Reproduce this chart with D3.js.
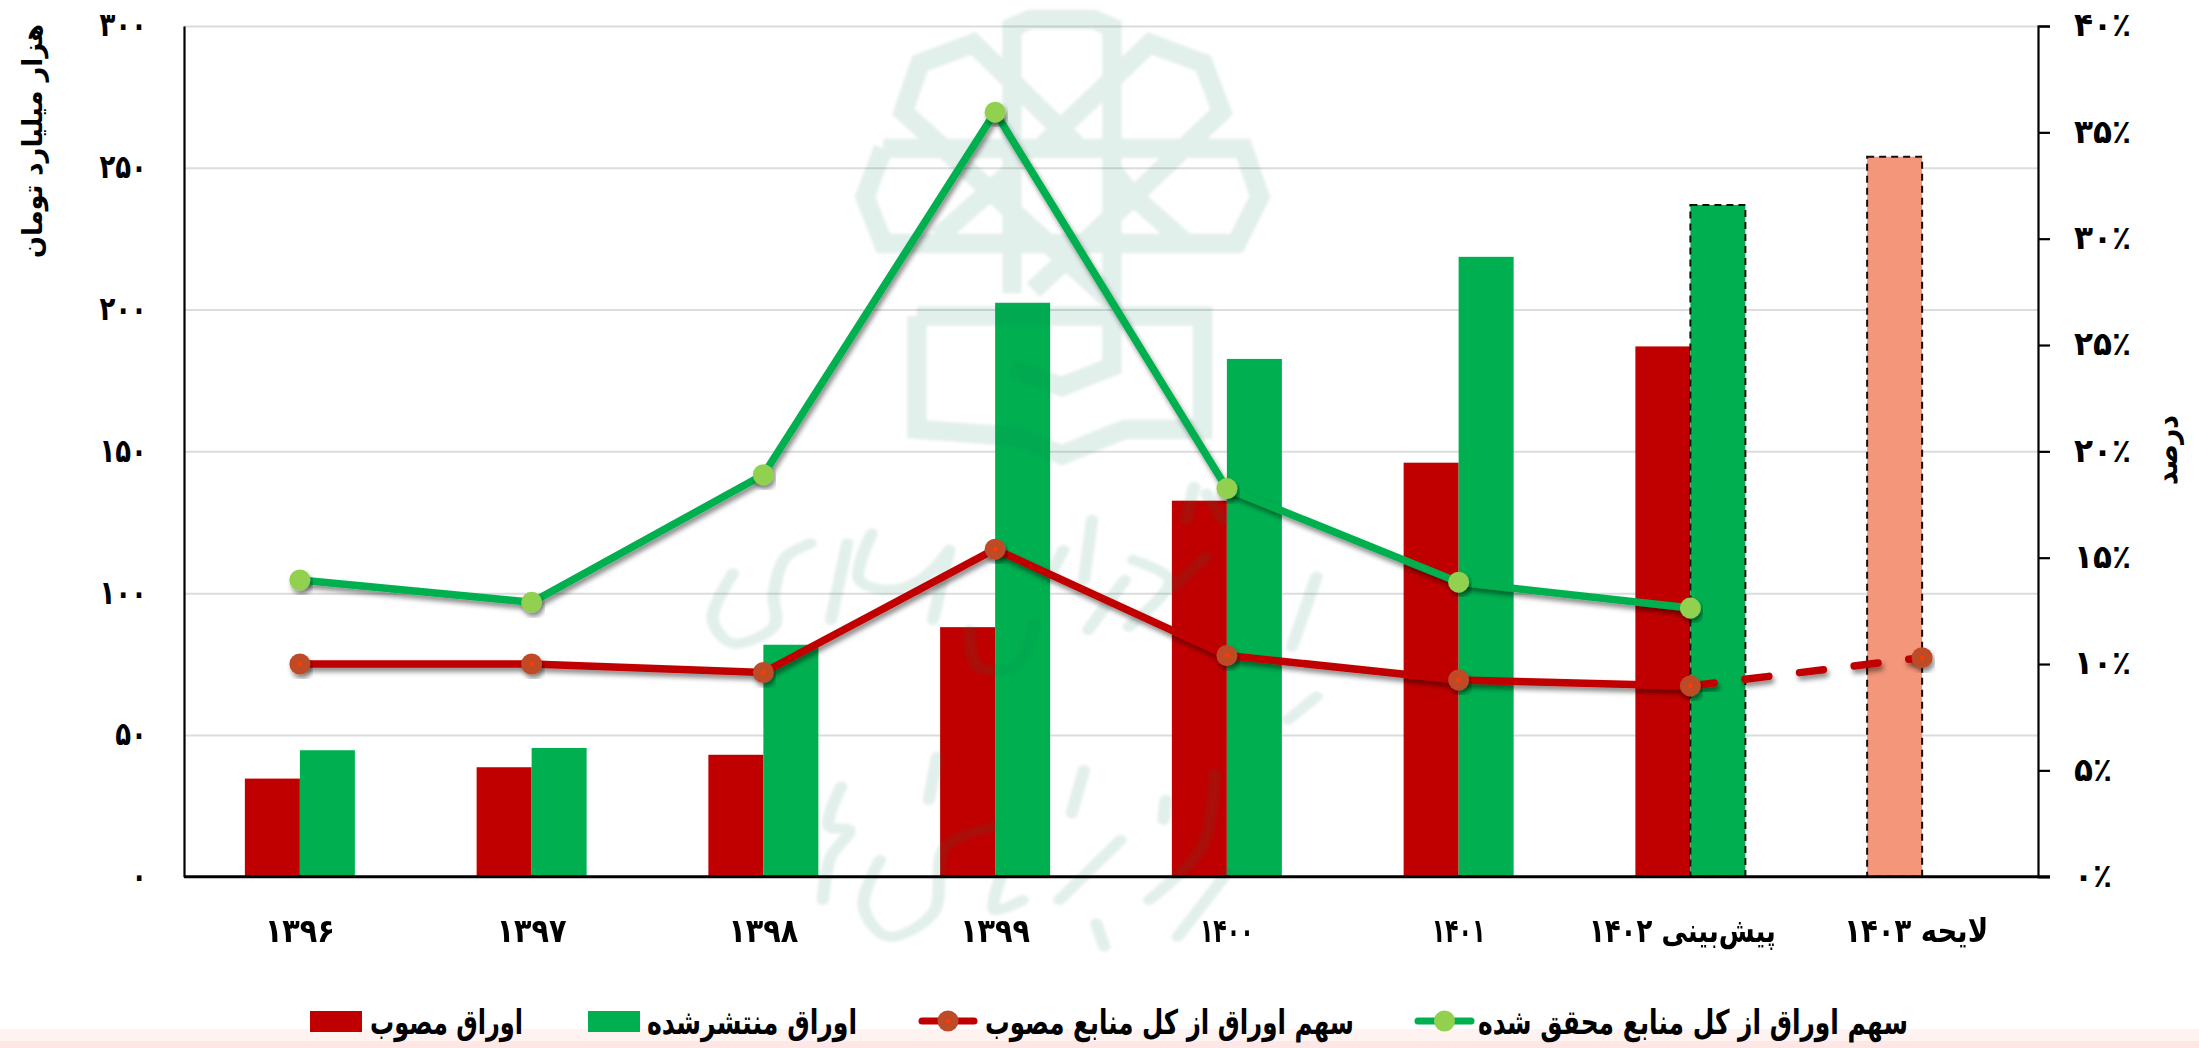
<!DOCTYPE html>
<html><head><meta charset="utf-8">
<script src="https://cdn.jsdelivr.net/npm/d3@7"></script>
<style>
html,body{margin:0;padding:0;background:#fff;overflow:hidden}
svg{display:block}
text{font-family:"DejaVu Sans",sans-serif;font-weight:700;fill:#000}
</style></head><body>
<script>
const categories = ["۱۳۹۶","۱۳۹۷","۱۳۹۸","۱۳۹۹","۱۴۰۰","۱۴۰۱","پیش‌بینی ۱۴۰۲","لایحه ۱۴۰۳"];
const approvedBonds = [34.6,38.6,43,88,132.6,146,187,253.9];
const issuedBonds = [44.6,45.4,81.8,202.4,182.6,218.6,236.9,null];
const shareRealized = [13.95,12.9,18.9,35.95,18.25,13.85,12.63,null];
const shareApproved = [10,10,9.6,15.4,10.4,9.25,8.97,10.3];
const leftTicks = [0,50,100,150,200,250,300];
const leftTickLabels = ["۰","۵۰","۱۰۰","۱۵۰","۲۰۰","۲۵۰","۳۰۰"];
const rightTicks = [0,5,10,15,20,25,30,35,40];
const rightTickLabels = ["۰٪","۵٪","۱۰٪","۱۵٪","۲۰٪","۲۵٪","۳۰٪","۳۵٪","۴۰٪"];
const legendLabels = ["اوراق مصوب","اوراق منتشرشده","سهم اوراق از کل منابع مصوب","سهم اوراق از کل منابع محقق شده"];
const yTitleLeft = "هزار میلیارد تومان";
const yTitleRight = "درصد";

const RED="#C00000", GREEN="#00B050", SALMON="#F4967A", RM="#BE4B28", GM="#92D050";
const W=2199,H=1048,L=184,R=2038,T=26,B=876.7;
const svg=d3.select("body").append("svg").attr("width",W).attr("height",H);
const defs=svg.append("defs");
const sh=defs.append("filter").attr("id","shadow").attr("x","-10%").attr("y","-10%").attr("width","120%").attr("height","130%").attr("filterUnits","objectBoundingBox");
sh.append("feDropShadow").attr("dx",2).attr("dy",4).attr("stdDeviation",2.5).attr("flood-color","#000").attr("flood-opacity",.45);
defs.append("filter").attr("id","soft").append("feGaussianBlur").attr("stdDeviation",1.6);

svg.append("rect").attr("x",0).attr("y",1029).attr("width",W).attr("height",12).attr("fill","#FFF3F1");
svg.append("rect").attr("x",0).attr("y",1041).attr("width",W).attr("height",7).attr("fill","#FFE7E5");

const x=d3.scaleBand().domain(categories).range([L,R]);
const y=d3.scaleLinear().domain([0,300]).range([B,T]);
const y2=d3.scaleLinear().domain([0,40]).range([B,T]);
const cx=c=>x(c)+x.bandwidth()/2;
const barW=55;
const inner=d3.scaleBand().domain(["a","b"]).range([-barW,barW]);

// gridlines
svg.append("g").attr("transform",`translate(${L},0)`)
  .call(d3.axisLeft(y).tickValues(leftTicks.slice(1)).tickSize(-(R-L)).tickFormat(""))
  .call(g=>{g.select(".domain").remove();g.selectAll("line").attr("stroke","#DCDCDC").attr("stroke-width",2);});

// bars
const gBars=svg.append("g");
gBars.selectAll("rect.a").data(categories).join("rect").attr("class","a")
  .attr("x",c=>cx(c)+inner("a")).attr("width",barW)
  .attr("y",(c,i)=>y(approvedBonds[i])).attr("height",(c,i)=>y(0)-y(approvedBonds[i]))
  .attr("fill",(c,i)=>i===7?SALMON:RED)
  .attr("stroke",(c,i)=>i===7?"#111":"none").attr("stroke-width",2).attr("stroke-dasharray","7 5");
gBars.selectAll("rect.b").data(categories.filter((c,i)=>issuedBonds[i]!==null)).join("rect").attr("class","b")
  .attr("x",c=>cx(c)+inner("b")).attr("width",barW)
  .attr("y",(c,i)=>y(issuedBonds[i])).attr("height",(c,i)=>y(0)-y(issuedBonds[i]))
  .attr("fill",GREEN)
  .attr("stroke",(c,i)=>i===6?"#111":"none").attr("stroke-width",2).attr("stroke-dasharray","7 5");

// watermark (emblem + calligraphy)
const wm=svg.append("g").attr("filter","url(#soft)").attr("opacity",.12);
const emblem=[
 [[636,880],[636,82],[690,58],[880,58],[936,82],[936,1100],[785,1160],[636,1105]],
 [[840,445],[520,130],[360,190],[310,335],[590,590],[930,900]],
 [[720,445],[1050,130],[1210,190],[1265,335],[1000,590],[700,870]],
 [[250,445],[1330,445],[1380,590],[1310,730],[250,730],[195,590],[250,445]],
 [[415,710],[640,510]],[[936,510],[1000,590],[1160,730]],
 [[351,948],[1208,948],[1208,1288],[975,1288],[785,1365],[650,1310],[351,1288],[351,948]]
];
const lin=d3.line();
wm.append("g").attr("transform","translate(800,0) scale(.3333)")
  .selectAll("path").data(emblem).join("path").attr("d",lin)
  .attr("fill","none").attr("stroke","#097C56").attr("stroke-width",58).attr("stroke-linejoin","miter");
const callig=[
 [[130,280],[80,420],[130,490],[230,440],[230,340],[260,230],[320,190]],
 [[410,190],[370,420]],
 [[470,160],[440,300],[520,330],[600,290],[660,210]],
 [[660,210],[620,420]],
 [[1010,120],[990,300]],[[940,210],[900,300]],
 [[1090,300],[1000,450]],[[1290,230],[1210,320]],[[1260,20],[1240,120]],
 [[710,450],[730,560],[820,560],[870,430]],
 [[395,920],[365,1040],[415,1050],[370,1130],[350,1260]],
 [[490,1140],[450,1280],[510,1370],[620,1300],[650,1100],[770,1040]],
 [[630,830],[610,960]],[[990,870],[960,1000]],[[1020,1330],[1040,1400]],[[1190,960],[1185,1020]],
 [[1080,1080],[930,1260]],[[790,1180],[770,1290],[840,1260]],
 [[1310,880],[1280,1100],[1150,1260]],[[1560,650],[1490,720]],[[1340,1180],[1220,1370]],
 [[1560,290],[1500,500]],[[1110,240],[1200,300],[1100,440]],[[1290,40],[1330,120]]
];
const cur=d3.line().curve(d3.curveCatmullRom);
wm.append("g").attr("transform","translate(680,480) scale(.408,.3333)")
  .selectAll("path").data(callig).join("path").attr("d",cur)
  .attr("fill","none").attr("stroke","#097C56").attr("stroke-width",30).attr("stroke-linecap","round").attr("stroke-linejoin","round");

// lines
const line=d3.line().x(d=>cx(d.c)).y(d=>y2(d.v));
const ptsG=categories.map((c,i)=>({c,v:shareRealized[i]})).filter(d=>d.v!==null);
const ptsR=categories.map((c,i)=>({c,v:shareApproved[i]}));
const LW=7.5;
svg.append("path").attr("d",line(ptsG)).attr("fill","none").attr("stroke",GREEN).attr("stroke-width",LW).attr("stroke-linecap","round").attr("stroke-linejoin","round").attr("filter","url(#shadow)");
svg.append("path").attr("d",line(ptsR.slice(0,7))).attr("fill","none").attr("stroke",RED).attr("stroke-width",LW).attr("stroke-linecap","round").attr("stroke-linejoin","round").attr("filter","url(#shadow)");
svg.append("path").attr("d",line(ptsR.slice(6))).attr("fill","none").attr("stroke",RED).attr("stroke-width",LW).attr("stroke-linecap","round").attr("stroke-dasharray","24 31").attr("filter","url(#shadow)");
function markers(pts,fill,dot){
  const g=svg.append("g");
  g.selectAll("circle.m").data(pts).join("circle").attr("class","m").attr("cx",d=>cx(d.c)).attr("cy",d=>y2(d.v)).attr("r",10.5).attr("fill",fill).attr("filter","url(#shadow)");
  if(dot) g.selectAll("circle.d").data(pts).join("circle").attr("class","d").attr("cx",d=>cx(d.c)).attr("cy",d=>y2(d.v)).attr("r",2.2).attr("fill",dot);
}
markers(ptsG,GM,null);
markers(ptsR,RM,"#FF3C00");

// squeeze a label to a narrower width while keeping its taller font size
function fit(sel,base,big,stretch){
  sel.each(function(){
    this.style.fontSize=base+"px";
    const w=this.getComputedTextLength();
    this.style.fontSize=big+"px";
    this.setAttribute("textLength",w*stretch);
    this.setAttribute("lengthAdjust","spacingAndGlyphs");
  });
}
// axes
svg.append("g").attr("transform",`translate(${L},0)`)
  .call(d3.axisLeft(y).tickValues(leftTicks).tickSize(0).tickPadding(37).tickFormat((d,i)=>leftTickLabels[i]))
  .call(g=>{g.select(".domain").attr("stroke","#000").attr("stroke-width",2.2);
    g.selectAll("text").attr("dy","0.3em").attr("direction","ltr").call(fit,26,33,1.0);});
svg.append("g").attr("transform",`translate(${R},0)`)
  .call(d3.axisRight(y2).tickValues(rightTicks).tickSize(12).tickPadding(24).tickFormat((d,i)=>rightTickLabels[i]))
  .call(g=>{g.select(".domain").attr("stroke","#000").attr("stroke-width",2.2);
    g.selectAll("line").attr("stroke","#000").attr("stroke-width",2.2);
    g.selectAll("text").attr("dy","0.3em").attr("direction","ltr").call(fit,26,33,1.2);});
svg.append("line").attr("x1",L).attr("x2",R+12).attr("y1",B).attr("y2",B).attr("stroke","#000").attr("stroke-width",3);

// category labels
const catSpans=[70,70,70,70,54,54,187,144];
const catShift=[0,0,0,0,0,0,-8,-6];
svg.append("g").selectAll("text").data(categories).join("text")
  .attr("x",(c,i)=>cx(c)+catShift[i]).attr("y",942).attr("text-anchor","middle").attr("direction","rtl")
  .style("font-size","33px").text(c=>c)
  .attr("textLength",(c,i)=>catSpans[i]).attr("lengthAdjust","spacingAndGlyphs");

// titles
svg.append("text").attr("transform","translate(42,141) rotate(-90)").attr("text-anchor","middle").attr("direction","rtl")
  .style("font-size","27px").attr("textLength",234).attr("lengthAdjust","spacingAndGlyphs").text(yTitleLeft);
svg.append("text").attr("transform","translate(2177,450) rotate(-90)").attr("text-anchor","middle").attr("direction","rtl")
  .style("font-size","30px").attr("textLength",70).attr("lengthAdjust","spacingAndGlyphs").text(yTitleRight);

// legend
const legendText=[[370,523],[647,857],[985,1354],[1478,1908]];
const lg=svg.append("g");
lg.selectAll("text").data(legendLabels).join("text")
  .attr("x",(d,i)=>(legendText[i][0]+legendText[i][1])/2).attr("y",1034).attr("text-anchor","middle").attr("direction","rtl")
  .style("font-size","34px").attr("textLength",(d,i)=>legendText[i][1]-legendText[i][0]).attr("lengthAdjust","spacingAndGlyphs").text(d=>d);
lg.append("rect").attr("x",310).attr("y",1011).attr("width",52).attr("height",21).attr("fill",RED);
lg.append("rect").attr("x",588).attr("y",1011).attr("width",52).attr("height",21).attr("fill",GREEN);
[[919,977,RED,RM,"#FF3C00"],[1415,1474,GREEN,GM,null]].forEach(([a,b,s,f,dot])=>{
  lg.append("line").attr("x1",a+3).attr("x2",b-3).attr("y1",1021).attr("y2",1021).attr("stroke",s).attr("stroke-width",7).attr("stroke-linecap","round");
  lg.append("circle").attr("cx",(a+b)/2).attr("cy",1021).attr("r",10.5).attr("fill",f);
  if(dot) lg.append("circle").attr("cx",(a+b)/2).attr("cy",1021).attr("r",2.2).attr("fill",dot);
});
</script></body></html>
